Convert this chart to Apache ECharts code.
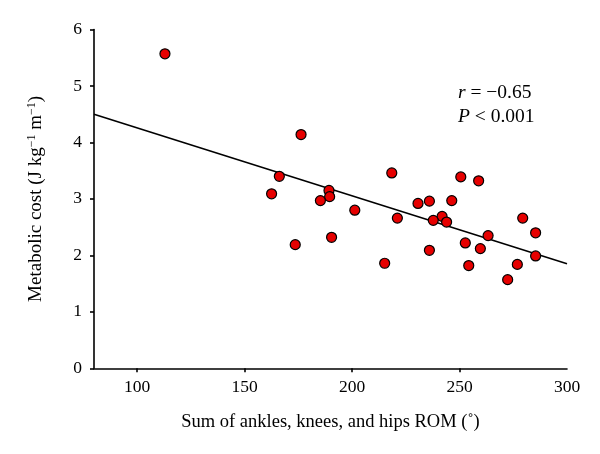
<!DOCTYPE html>
<html><head><meta charset="utf-8">
<script src="https://cdn.jsdelivr.net/npm/echarts@6/dist/echarts.min.js"></script>
<style>html,body{margin:0;padding:0;background:#fff}#c{width:600px;height:454px}</style>
</head><body><div id="c"></div>
<script>
const romX = [113.0,176.3,166.2,162.6,189.3,189.6,185.3,190.5,173.6,218.5,250.6,258.9,230.7,236.0,246.4,201.3,221.1,241.9,237.8,244.0,279.4,285.4,263.3,252.7,259.7,236.0,285.4,215.2,254.3,276.9,272.4];
const costY = [5.57,4.14,3.40,3.09,3.15,3.04,2.97,2.32,2.19,3.46,3.39,3.32,2.92,2.96,2.97,2.80,2.66,2.69,2.62,2.59,2.66,2.40,2.35,2.22,2.12,2.09,1.99,1.86,1.82,1.84,1.57];
const fitX = [80, 300];
const fitY = [4.50, 1.85];
const xTicks = [100,150,200,250,300];
const statsR = '−0.65';
const statsP = '0.001';

const FONT = 'Liberation Serif';
const chart = echarts.init(document.getElementById('c'));
chart.setOption({
  animation:false,
  backgroundColor:'#fff',
  grid:{left:94,right:33,top:29.5,bottom:85.7,containLabel:false},
  xAxis:{
    type:'value',min:80,max:300,
    axisLine:{lineStyle:{color:'#000',width:1.6}},
    axisTick:{customValues:xTicks.slice(0,4),length:4,lineStyle:{color:'#000',width:1.6}},
    axisLabel:{customValues:xTicks,color:'#000',fontFamily:FONT,fontSize:17.5,margin:10},
    splitLine:{show:false},
    name:'Sum of ankles, knees, and hips ROM (˚)',
    nameLocation:'middle',nameGap:44,
    nameTextStyle:{color:'#000',fontFamily:FONT,fontSize:18.5}
  },
  yAxis:{
    type:'value',min:0,max:6,interval:1,
    axisLine:{lineStyle:{color:'#000',width:1.6}},
    axisTick:{length:4,lineStyle:{color:'#000',width:1.6}},
    axisLabel:{color:'#000',fontFamily:FONT,fontSize:17.5,margin:12},
    splitLine:{show:false},
    name:'{a|Metabolic cost (J kg}{s|−1}{a| m}{s|−1}{a|)}',
    nameLocation:'middle',nameGap:47,
    nameTextStyle:{color:'#000',fontFamily:FONT,fontSize:19,
      rich:{a:{fontFamily:FONT,fontSize:19,color:'#000'},
            s:{fontFamily:FONT,fontSize:12,color:'#000',padding:[0,0,9,0]}}}
  },
  series:[
    {type:'line',data:fitX.map((x,i)=>[x,fitY[i]]),symbol:'none',
     lineStyle:{color:'#000',width:1.6},z:1},
    {type:'scatter',data:romX.map((x,i)=>[x,costY[i]]),symbol:'circle',symbolSize:10,
     itemStyle:{color:'#e60000',borderColor:'#000',borderWidth:1.2,opacity:1},z:2}
  ],
  graphic:[
    {type:'text',left:458,top:83,style:{text:'{i|r} = '+statsR,fill:'#000',font:'19.5px '+FONT,
      rich:{i:{fontFamily:FONT,fontSize:19.5,fontStyle:'italic'}}}},
    {type:'text',left:458,top:107,style:{text:'{i|P} < '+statsP,fill:'#000',font:'19.5px '+FONT,
      rich:{i:{fontFamily:FONT,fontSize:19.5,fontStyle:'italic'}}}}
  ]
});
</script></body></html>
